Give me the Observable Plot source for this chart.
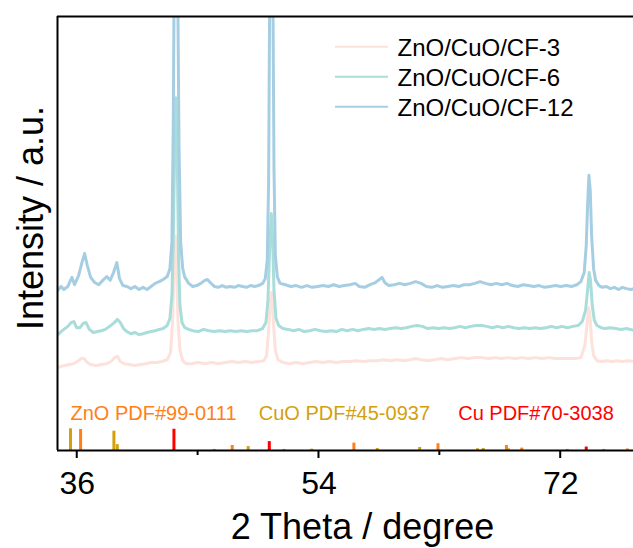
<!DOCTYPE html>
<html><head><meta charset="utf-8">
<script src="https://cdn.jsdelivr.net/npm/d3@7"></script>
<script src="https://cdn.jsdelivr.net/npm/@observablehq/plot@0.6"></script>
<style>
body{margin:0;background:#fff;}
#chart svg{display:block;}
</style>
</head><body><div id="chart"></div>
<script>
// ---- data ----
const seriesNames = ["ZnO/CuO/CF-3", "ZnO/CuO/CF-6", "ZnO/CuO/CF-12"];
const seriesColors = ["#FDE1DB", "#A8DDDA", "#A6CEE3"];

// [2theta, intensity (a.u.)]
const cf3 = [[34.55,19.1],[34.8,19.4],[35.1,19.6],[35.4,19.8],[35.7,20.0],[36.0,20.5],[36.3,21.2],[36.5,21.2],[36.75,20.3],[37.0,19.8],[37.4,19.6],[37.8,19.8],[38.2,20.0],[38.5,20.5],[38.8,21.4],[39.0,21.7],[39.2,20.5],[39.5,20.0],[39.9,19.8],[40.3,19.6],[40.7,19.8],[41.1,20.0],[41.5,20.3],[41.9,20.3],[42.3,20.5],[42.7,20.9],[42.95,22.6],[43.1,30.0],[43.2,41.5],[43.3,49.5],[43.4,42.6],[43.5,30.0],[43.65,23.0],[43.85,20.7],[44.1,20.0],[44.5,20.0],[45.0,20.3],[45.5,20.0],[46.0,20.3],[46.5,20.0],[47.0,20.3],[47.5,20.5],[48.0,20.3],[48.5,20.5],[49.0,20.3],[49.5,20.5],[49.9,20.7],[50.1,21.9],[50.25,27.6],[50.38,34.6],[50.48,36.4],[50.6,30.0],[50.75,23.0],[50.95,20.9],[51.3,20.3],[51.8,20.0],[52.3,20.3],[52.8,20.0],[53.3,20.3],[53.8,20.5],[54.3,20.3],[54.8,20.5],[55.3,20.3],[55.8,20.5],[56.3,20.5],[56.8,20.7],[57.3,20.5],[57.8,20.7],[58.3,20.7],[58.8,20.9],[59.3,20.7],[59.8,20.9],[60.3,20.7],[60.8,20.9],[61.2,21.2],[61.6,20.9],[62.1,20.7],[62.6,20.9],[63.1,21.2],[63.6,20.9],[64.1,21.2],[64.6,21.4],[65.1,21.2],[65.6,21.4],[66.1,21.4],[66.6,21.2],[67.1,21.4],[67.6,21.2],[68.1,21.4],[68.6,21.2],[69.1,21.4],[69.6,21.2],[70.1,21.4],[70.6,21.2],[71.1,21.4],[71.6,21.2],[72.1,21.2],[72.6,21.2],[73.1,21.2],[73.5,21.4],[73.8,24.2],[73.95,28.8],[74.08,32.9],[74.18,31.1],[74.3,25.3],[74.45,21.9],[74.7,20.7],[75.0,20.5],[75.4,20.7],[75.8,20.5],[76.2,20.7],[76.6,20.5],[77.0,20.7],[77.5,20.5]];

const cf6 = [[34.55,26.7],[34.8,27.4],[35.0,27.9],[35.3,28.6],[35.55,29.5],[35.75,29.7],[35.95,28.3],[36.2,28.3],[36.45,29.3],[36.65,29.5],[36.9,27.9],[37.2,27.2],[37.5,27.4],[37.8,27.6],[38.1,27.9],[38.4,28.6],[38.7,29.3],[39.0,30.2],[39.2,29.5],[39.45,28.1],[39.7,27.4],[40.0,26.9],[40.3,27.2],[40.6,26.7],[40.9,26.9],[41.2,27.2],[41.5,27.4],[41.8,27.6],[42.1,27.9],[42.4,28.1],[42.7,28.8],[42.9,30.4],[43.05,35.7],[43.15,48.4],[43.25,69.1],[43.35,81.3],[43.45,66.8],[43.55,43.8],[43.65,33.4],[43.8,29.5],[44.0,28.3],[44.3,27.9],[44.6,27.6],[45.0,27.4],[45.4,27.9],[45.8,27.6],[46.2,27.4],[46.6,27.6],[47.0,27.4],[47.4,27.6],[47.8,27.4],[48.2,27.6],[48.6,27.4],[49.0,27.6],[49.4,27.6],[49.8,28.1],[50.05,29.5],[50.2,34.6],[50.32,46.1],[50.45,54.6],[50.55,48.4],[50.65,36.9],[50.8,30.4],[51.0,28.8],[51.3,28.1],[51.7,27.9],[52.1,27.6],[52.5,27.9],[52.9,27.4],[53.3,27.6],[53.7,27.9],[54.1,27.6],[54.5,27.4],[54.9,27.6],[55.3,27.4],[55.7,27.9],[56.1,27.6],[56.5,27.9],[56.9,27.6],[57.3,27.9],[57.7,28.1],[58.1,27.9],[58.5,28.1],[58.9,27.9],[59.3,28.1],[59.7,28.3],[60.1,28.1],[60.5,28.3],[60.9,28.6],[61.3,28.8],[61.7,28.6],[62.1,28.1],[62.5,28.3],[62.9,28.1],[63.3,28.3],[63.7,28.1],[64.1,28.3],[64.5,28.6],[64.9,28.3],[65.3,28.6],[65.7,28.8],[66.1,28.8],[66.5,28.6],[66.9,28.3],[67.3,28.6],[67.7,28.3],[68.1,28.6],[68.5,28.3],[68.9,28.1],[69.3,28.3],[69.7,28.1],[70.1,28.3],[70.5,28.1],[70.9,28.3],[71.3,28.6],[71.7,28.3],[72.1,28.6],[72.5,28.3],[72.9,28.6],[73.3,28.8],[73.6,29.7],[73.85,32.3],[74.0,36.9],[74.12,41.0],[74.22,39.2],[74.35,33.4],[74.5,30.0],[74.7,28.8],[75.0,28.3],[75.3,28.1],[75.7,28.3],[76.1,28.1],[76.5,27.9],[76.9,28.1],[77.2,27.9],[77.5,27.6]];

const cf12 = [[34.55,36.9],[34.8,37.8],[35.0,37.1],[35.3,37.8],[35.6,39.9],[35.8,38.2],[36.1,40.3],[36.35,43.3],[36.55,45.4],[36.75,42.6],[37.0,39.9],[37.3,38.7],[37.6,38.2],[37.9,39.2],[38.2,40.1],[38.45,39.2],[38.7,41.0],[38.95,43.3],[39.15,39.6],[39.4,38.0],[39.7,37.8],[40.0,37.3],[40.3,37.8],[40.6,37.1],[40.9,37.6],[41.2,37.1],[41.5,37.8],[41.8,38.5],[42.1,38.9],[42.4,39.4],[42.7,40.1],[42.9,41.9],[43.05,48.0],[43.15,75.0],[43.2,100.0],[43.35,170.0],[43.5,100.0],[43.58,70.0],[43.7,48.0],[43.85,42.0],[44.0,40.0],[44.3,38.5],[44.6,37.8],[44.9,38.0],[45.2,38.5],[45.5,39.2],[45.7,39.4],[45.9,38.7],[46.2,37.8],[46.5,37.6],[46.8,38.0],[47.1,37.6],[47.4,37.8],[47.7,37.6],[48.0,38.0],[48.3,37.8],[48.6,37.6],[48.9,38.0],[49.2,37.8],[49.5,38.0],[49.8,38.5],[50.0,39.6],[50.15,43.8],[50.25,62.0],[50.32,100.0],[50.45,170.0],[50.58,100.0],[50.65,65.0],[50.75,45.0],[50.9,40.0],[51.1,38.5],[51.5,38.2],[51.9,37.8],[52.3,38.0],[52.7,37.6],[53.1,38.0],[53.5,37.6],[53.9,37.8],[54.3,38.0],[54.7,37.8],[55.1,38.2],[55.5,37.8],[55.9,38.0],[56.3,38.2],[56.7,38.5],[57.0,37.8],[57.4,37.6],[57.8,38.2],[58.2,38.7],[58.5,39.4],[58.7,39.9],[58.9,38.7],[59.2,38.0],[59.6,38.2],[60.0,38.5],[60.4,38.2],[60.8,38.5],[61.2,38.9],[61.6,38.5],[62.0,37.8],[62.4,37.6],[62.8,38.0],[63.2,37.6],[63.6,37.8],[64.0,38.0],[64.4,37.8],[64.8,38.2],[65.2,38.2],[65.6,38.5],[66.0,38.9],[66.4,38.5],[66.8,38.2],[67.2,38.5],[67.6,38.2],[68.0,38.5],[68.4,38.0],[68.8,37.8],[69.2,38.2],[69.6,38.0],[70.0,37.8],[70.4,38.0],[70.8,37.6],[71.2,37.8],[71.6,38.0],[72.0,37.8],[72.4,38.0],[72.8,37.8],[73.2,38.2],[73.5,38.9],[73.75,41.0],[73.9,47.2],[74.0,56.5],[74.1,63.4],[74.2,59.9],[74.3,49.5],[74.45,41.9],[74.6,39.2],[74.85,38.0],[75.1,37.6],[75.4,37.8],[75.7,37.3],[76.0,37.6],[76.3,37.1],[76.6,37.6],[76.9,37.3],[77.2,37.1],[77.5,37.3]];

const refNames = ["ZnO PDF#99-0111", "CuO PDF#45-0937", "Cu PDF#70-3038"];
const refColors = ["#FF8018", "#D4A00C", "#FF0000"];
// [2theta, relative intensity %]
const znoSticks = [[36.25,97],[47.54,23],[56.6,34],[62.86,31],[67.96,23],[69.1,11],[76.96,7]];
const cuoSticks = [[35.5,100],[38.73,89],[38.98,27],[46.2,5],[48.73,18],[51.4,5],[53.45,6],[58.34,9],[61.5,14],[65.8,8],[66.23,9],[68.1,8],[72.48,5],[75.2,5]];
const cuSticks = [[43.2,98],[50.3,41],[73.9,16]];

const majorTicks = [36, 54, 72];
const minorTicks = [45, 63];
const xLabel = "2 Theta / degree";
const yLabel = "Intensity / a.u.";

// ---- chart ----
const xDomain = [34.53, 77.42];
const yDomain = [0, 100];
const stickScale = 0.05;
const font = "'Liberation Sans', Arial, Helvetica, sans-serif";

const seriesList = [cf3, cf6, cf12];
const stickList = [znoSticks, cuoSticks, cuSticks];

function decorations(index, scales, values, dims) {
  const x = scales.x, y = scales.y;
  const g = d3.create("svg:g");
  const y0 = y(0);
  for (const t of majorTicks) g.append("line").attr("x1", x(t)).attr("x2", x(t)).attr("y1", y0).attr("y2", y0 + 8).attr("stroke", "#000").attr("stroke-width", 2);
  for (const t of minorTicks) g.append("line").attr("x1", x(t)).attr("x2", x(t)).attr("y1", y0).attr("y2", y0 + 5).attr("stroke", "#000").attr("stroke-width", 2);
  seriesColors.forEach((c, i) => {
    const yy = dims.marginTop + 30.7 + 30 * i;
    g.append("line").attr("x1", dims.marginLeft + 278).attr("x2", dims.marginLeft + 331)
      .attr("y1", yy).attr("y2", yy).attr("stroke", c).attr("stroke-width", 2);
  });
  return g.node();
}

const marks = [];
stickList.forEach((s, i) => {
  marks.push(Plot.ruleX(s, {x: d => d[0], y1: 0, y2: d => d[1] * stickScale, stroke: refColors[i], strokeWidth: 3}));
});
seriesList.forEach((s, i) => {
  marks.push(Plot.line(s, {x: d => d[0], y: d => d[1], stroke: seriesColors[i], strokeWidth: 3, clip: true, curve: "linear"}));
});
marks.push(Plot.ruleY([0, 100], {stroke: "#000", strokeWidth: 2}));
marks.push(Plot.ruleX([xDomain[0]], {stroke: "#000", strokeWidth: 2}));
marks.push(decorations);
seriesNames.forEach((n, i) => {
  marks.push(Plot.text([n], {text: d => d, frameAnchor: "top-left", dx: 340, dy: 32.2 + 30 * i, textAnchor: "start", lineAnchor: "middle", fontSize: 24, fill: "#000"}));
});
const refDx = [13, 201.3, 400.7];
refNames.forEach((n, i) => {
  marks.push(Plot.text([n], {text: d => d, frameAnchor: "bottom-left", dx: refDx[i], dy: -37.4, textAnchor: "start", lineAnchor: "middle", fontSize: 20, fill: refColors[i]}));
});
marks.push(Plot.text([xLabel], {text: d => d, frameAnchor: "bottom", dx: 17, dy: 76.5, textAnchor: "middle", lineAnchor: "middle", fontSize: 36, fill: "#000"}));
marks.push(Plot.text([yLabel], {text: d => d, frameAnchor: "left", dx: -26, dy: -15.5, rotate: -90, textAnchor: "middle", lineAnchor: "middle", fontSize: 36, fill: "#000"}));

const chart = Plot.plot({
  width: 633, height: 548,
  marginLeft: 57, marginTop: 16, marginBottom: 98, marginRight: 0,
  style: {fontFamily: font, fontSize: "32px", background: "#fff", color: "#000", overflow: "visible"},
  x: {domain: xDomain, ticks: majorTicks, tickSize: 0, tickPadding: 21, tickFormat: d => String(d), label: null},
  y: {domain: yDomain, axis: null},
  marks
});
document.getElementById("chart").appendChild(chart);
</script>
</body></html>
